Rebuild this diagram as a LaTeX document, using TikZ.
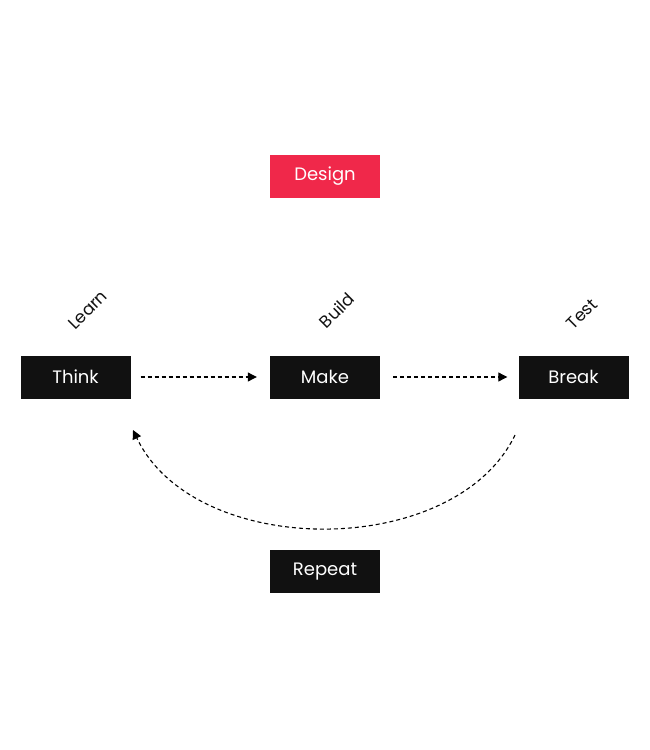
\documentclass[tikz,border=0pt]{standalone}
\usepackage{fontspec}
\setmainfont{Poppins}
\usetikzlibrary{arrows.meta}
\definecolor{dred}{HTML}{F0284A}
\definecolor{dblk}{HTML}{111111}
\begin{document}
\begin{tikzpicture}[x=1pt,y=-1pt,
 box/.style={fill=dblk,text=white,minimum width=110pt,minimum height=43pt,inner sep=0pt,font=\fontsize{18}{20}\selectfont},
 lab/.style={rotate=45,font=\fontsize{17}{19}\selectfont,text=dblk},
 arr/.style={line width=1.1pt,-{Triangle[length=9pt,width=9pt]},dash pattern=on 4pt off 3pt}]
\useasboundingbox (0,0) rectangle (650,750);
\node[box,fill=dred] (design) at (325,176.5) {Design};
\node[box] (think) at (75.5,377) {Think};
\node[box] (make) at (325,377) {Make};
\node[box] (break) at (573.5,377) {Break};
\node[box] (repeat) at (325,571.5) {Repeat};
\node[lab] (learn) at (88,310) {Learn};
\node[lab] (build) at (337,310) {Build};
\node[lab] (test) at (582,314) {Test};
\draw[arr] ([xshift=10pt]think.east) -- ([xshift=-13pt]make.west);
\draw[arr] ([xshift=13pt]make.east) -- ([xshift=-11pt]break.west);
\coordinate (cs) at (515,435);
\coordinate (ce) at (133,430);
\draw[arr] (cs) .. controls (455,560) and (195,560) .. (ce);
\end{tikzpicture}
\end{document}
